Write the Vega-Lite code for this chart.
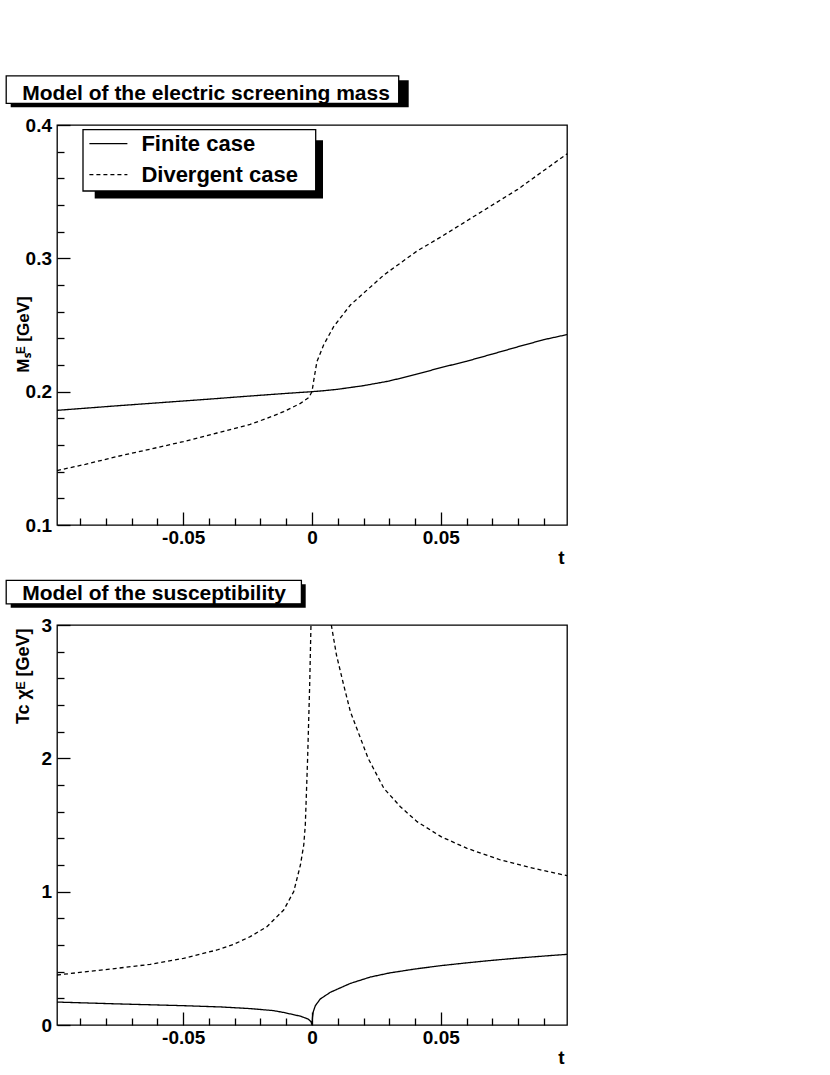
{
  "$schema": "https://vega.github.io/schema/vega-lite/v6.json",
  "padding": {"left": 4, "top": 74, "right": 10, "bottom": 10},
  "bounds": "flush",
  "spacing": 100,
  "resolve": {"scale": {"strokeDash": "shared"}, "legend": {"strokeDash": "shared"}},
  "config": {
    "font": "Liberation Sans",
    "view": {"stroke": "black", "strokeWidth": 1.3, "fill": "white"},
    "axis": {"domain": false, "grid": false, "tickColor": "black", "tickWidth": 1.3, "tickCount": 100, "labelFont": "Liberation Sans", "labelFontWeight": "bold", "labelFontSize": 19, "labelColor": "black", "labelFlush": false, "labelOverlap": false, "labelBound": false, "titleFont": "Liberation Sans", "titleFontWeight": "bold", "titleFontSize": 19, "titleColor": "black"},
    "legend": {"orient": "none", "legendX": 31.4, "legendY": -1.4, "padding": 0, "title": null, "labelFont": "Liberation Sans", "labelFontWeight": "bold", "labelFontSize": 22, "labelColor": "black", "labelOffset": 13, "rowPadding": -5, "symbolType": "stroke", "symbolSize": 1444, "symbolStrokeWidth": 1.3, "symbolStrokeColor": "black"}
  },
  "datasets": {
    "mass": [
      {"series": "Finite case", "t": -0.099, "v": 0.186},
      {"series": "Finite case", "t": -0.09, "v": 0.1873},
      {"series": "Finite case", "t": -0.075, "v": 0.1895},
      {"series": "Finite case", "t": -0.06, "v": 0.1916},
      {"series": "Finite case", "t": -0.05, "v": 0.193},
      {"series": "Finite case", "t": -0.04, "v": 0.1944},
      {"series": "Finite case", "t": -0.025, "v": 0.1966},
      {"series": "Finite case", "t": -0.01, "v": 0.1987},
      {"series": "Finite case", "t": 0, "v": 0.2},
      {"series": "Finite case", "t": 0.005, "v": 0.2008},
      {"series": "Finite case", "t": 0.01, "v": 0.2018},
      {"series": "Finite case", "t": 0.02, "v": 0.2045},
      {"series": "Finite case", "t": 0.03, "v": 0.208},
      {"series": "Finite case", "t": 0.04, "v": 0.2128},
      {"series": "Finite case", "t": 0.05, "v": 0.218},
      {"series": "Finite case", "t": 0.06, "v": 0.2228},
      {"series": "Finite case", "t": 0.07, "v": 0.2282},
      {"series": "Finite case", "t": 0.08, "v": 0.2337},
      {"series": "Finite case", "t": 0.09, "v": 0.239},
      {"series": "Finite case", "t": 0.099, "v": 0.2428},
      {"series": "Divergent case", "t": -0.099, "v": 0.1408},
      {"series": "Divergent case", "t": -0.088, "v": 0.1455},
      {"series": "Divergent case", "t": -0.0758, "v": 0.1513},
      {"series": "Divergent case", "t": -0.063, "v": 0.1568},
      {"series": "Divergent case", "t": -0.05, "v": 0.1625},
      {"series": "Divergent case", "t": -0.0369, "v": 0.169},
      {"series": "Divergent case", "t": -0.024, "v": 0.1755},
      {"series": "Divergent case", "t": -0.0175, "v": 0.18},
      {"series": "Divergent case", "t": -0.011, "v": 0.185},
      {"series": "Divergent case", "t": -0.0045, "v": 0.1912},
      {"series": "Divergent case", "t": -0.0013, "v": 0.1955},
      {"series": "Divergent case", "t": 0, "v": 0.2},
      {"series": "Divergent case", "t": 0.0006, "v": 0.2075},
      {"series": "Divergent case", "t": 0.0019, "v": 0.2225},
      {"series": "Divergent case", "t": 0.0045, "v": 0.235},
      {"series": "Divergent case", "t": 0.0084, "v": 0.2488},
      {"series": "Divergent case", "t": 0.0149, "v": 0.265},
      {"series": "Divergent case", "t": 0.0279, "v": 0.2875},
      {"series": "Divergent case", "t": 0.0408, "v": 0.3055},
      {"series": "Divergent case", "t": 0.05, "v": 0.316},
      {"series": "Divergent case", "t": 0.0667, "v": 0.336},
      {"series": "Divergent case", "t": 0.0797, "v": 0.3515},
      {"series": "Divergent case", "t": 0.0991, "v": 0.3785}
    ],
    "chi": [
      {"series": "Finite case", "branch": "all", "t": -0.099, "v": 0.172},
      {"series": "Finite case", "branch": "all", "t": -0.075, "v": 0.158},
      {"series": "Finite case", "branch": "all", "t": -0.05, "v": 0.145},
      {"series": "Finite case", "branch": "all", "t": -0.035, "v": 0.135},
      {"series": "Finite case", "branch": "all", "t": -0.024, "v": 0.123},
      {"series": "Finite case", "branch": "all", "t": -0.015, "v": 0.108},
      {"series": "Finite case", "branch": "all", "t": -0.011, "v": 0.094},
      {"series": "Finite case", "branch": "all", "t": -0.0045, "v": 0.066},
      {"series": "Finite case", "branch": "all", "t": -0.0015, "v": 0.045},
      {"series": "Finite case", "branch": "all", "t": -0.0004, "v": 0.025},
      {"series": "Finite case", "branch": "all", "t": 0, "v": 0},
      {"series": "Finite case", "branch": "all", "t": 0.0002, "v": 0.06},
      {"series": "Finite case", "branch": "all", "t": 0.0005, "v": 0.1},
      {"series": "Finite case", "branch": "all", "t": 0.0013, "v": 0.145},
      {"series": "Finite case", "branch": "all", "t": 0.0032, "v": 0.195},
      {"series": "Finite case", "branch": "all", "t": 0.0071, "v": 0.245},
      {"series": "Finite case", "branch": "all", "t": 0.0149, "v": 0.312},
      {"series": "Finite case", "branch": "all", "t": 0.0227, "v": 0.36},
      {"series": "Finite case", "branch": "all", "t": 0.03, "v": 0.39},
      {"series": "Finite case", "branch": "all", "t": 0.04, "v": 0.42},
      {"series": "Finite case", "branch": "all", "t": 0.05, "v": 0.445},
      {"series": "Finite case", "branch": "all", "t": 0.06, "v": 0.466},
      {"series": "Finite case", "branch": "all", "t": 0.07, "v": 0.485},
      {"series": "Finite case", "branch": "all", "t": 0.08, "v": 0.502},
      {"series": "Finite case", "branch": "all", "t": 0.09, "v": 0.517},
      {"series": "Finite case", "branch": "all", "t": 0.099, "v": 0.53},
      {"series": "Divergent case", "branch": "below", "t": -0.099, "v": 0.375},
      {"series": "Divergent case", "branch": "below", "t": -0.0758, "v": 0.425},
      {"series": "Divergent case", "branch": "below", "t": -0.0628, "v": 0.455},
      {"series": "Divergent case", "branch": "below", "t": -0.0499, "v": 0.5},
      {"series": "Divergent case", "branch": "below", "t": -0.0369, "v": 0.5625},
      {"series": "Divergent case", "branch": "below", "t": -0.0304, "v": 0.605},
      {"series": "Divergent case", "branch": "below", "t": -0.024, "v": 0.6625},
      {"series": "Divergent case", "branch": "below", "t": -0.0175, "v": 0.7375},
      {"series": "Divergent case", "branch": "below", "t": -0.011, "v": 0.8625},
      {"series": "Divergent case", "branch": "below", "t": -0.0071, "v": 1.0},
      {"series": "Divergent case", "branch": "below", "t": -0.0045, "v": 1.2},
      {"series": "Divergent case", "branch": "below", "t": -0.0032, "v": 1.35},
      {"series": "Divergent case", "branch": "below", "t": -0.0026, "v": 1.5},
      {"series": "Divergent case", "branch": "below", "t": -0.0017, "v": 2.0},
      {"series": "Divergent case", "branch": "below", "t": -0.0009, "v": 2.55},
      {"series": "Divergent case", "branch": "below", "t": -0.0004, "v": 3.0},
      {"series": "Divergent case", "branch": "above", "t": 0.0075, "v": 3.0},
      {"series": "Divergent case", "branch": "above", "t": 0.0095, "v": 2.775},
      {"series": "Divergent case", "branch": "above", "t": 0.0123, "v": 2.55},
      {"series": "Divergent case", "branch": "above", "t": 0.0149, "v": 2.35},
      {"series": "Divergent case", "branch": "above", "t": 0.0218, "v": 2.0},
      {"series": "Divergent case", "branch": "above", "t": 0.0279, "v": 1.775},
      {"series": "Divergent case", "branch": "above", "t": 0.0343, "v": 1.6375},
      {"series": "Divergent case", "branch": "above", "t": 0.0408, "v": 1.525},
      {"series": "Divergent case", "branch": "above", "t": 0.0501, "v": 1.4125},
      {"series": "Divergent case", "branch": "above", "t": 0.0602, "v": 1.325},
      {"series": "Divergent case", "branch": "above", "t": 0.0732, "v": 1.2375},
      {"series": "Divergent case", "branch": "above", "t": 0.0861, "v": 1.175},
      {"series": "Divergent case", "branch": "above", "t": 0.099, "v": 1.12}
    ]
  },
  "vconcat": [
    {
      "width": 510,
      "height": 400,
      "layer": [
        {
          "data": {"name": "mass"},
          "mark": {"type": "line", "color": "black", "strokeWidth": 1.3},
          "encoding": {
            "x": {
              "field": "t", "type": "quantitative",
              "scale": {"domain": [-0.099, 0.099], "nice": false, "zero": false},
              "axis": {
                "title": "t",
                "values": [-0.09, -0.08, -0.07, -0.06, -0.05, -0.04, -0.03, -0.02, -0.01, 0, 0.01, 0.02, 0.03, 0.04, 0.05, 0.06, 0.07, 0.08, 0.09],
                "tickCount": 100,
                "labelOverlap": false,
                "tickSize": {"condition": {"test": "abs(datum.value*20 - round(datum.value*20)) < 1e-6", "value": -13}, "value": -7},
                "labelExpr": "abs(datum.value + 0.05) < 1e-6 ? '-0.05' : abs(datum.value) < 1e-6 ? '0' : abs(datum.value - 0.05) < 1e-6 ? '0.05' : ''",
                "labelPadding": 16.5,
                "titleX": 507, "titleY": 38, "titleAlign": "right", "titleBaseline": "alphabetic"
              }
            },
            "y": {
              "field": "v", "type": "quantitative",
              "scale": {"domain": [0.1, 0.4], "nice": false, "zero": false},
              "axis": {
                "title": "Mₛᴱ [GeV]",
                "titleFontSize": 17,
                "values": [0.1, 0.12, 0.14, 0.16, 0.18, 0.2, 0.22, 0.24, 0.26, 0.28, 0.3, 0.32, 0.34, 0.36, 0.38, 0.4],
                "tickCount": 100,
                "labelOverlap": false,
                "tickSize": {"condition": {"test": "abs(datum.value*10 - round(datum.value*10)) < 1e-6", "value": -13}, "value": -7},
                "labelExpr": "abs(datum.value*10 - round(datum.value*10)) < 1e-6 ? format(datum.value, '.1f') : ''",
                "labelPadding": 18.5,
                "titleX": -29, "titleY": 209, "titleAngle": 270, "titleAlign": "center", "titleBaseline": "alphabetic"
              }
            },
            "strokeDash": {"field": "series", "type": "nominal", "scale": {"domain": ["Finite case", "Divergent case"], "range": [[1, 0], [4, 3]]}, "legend": {"title": null}}
          }
        },
        {
          "data": {"values": [{}]},
          "mark": {"type": "rect", "fill": "black"},
          "encoding": {
            "x": {"datum": -0.116975, "type": "quantitative", "scale": {"domain": [-0.099, 0.099], "nice": false, "zero": false}},
            "x2": {"datum": 0.037542},
            "y": {"datum": 0.433525, "type": "quantitative", "scale": {"domain": [0.1, 0.4], "nice": false, "zero": false}},
            "y2": {"datum": 0.413275}
          }
        },
        {
          "data": {"values": [{}]},
          "mark": {"type": "rect", "fill": "white", "stroke": "black", "strokeWidth": 1.3},
          "encoding": {
            "x": {"datum": -0.118722, "type": "quantitative", "scale": {"domain": [-0.099, 0.099], "nice": false, "zero": false}},
            "x2": {"datum": 0.03366},
            "y": {"datum": 0.4369, "type": "quantitative", "scale": {"domain": [0.1, 0.4], "nice": false, "zero": false}},
            "y2": {"datum": 0.41628}
          }
        },
        {
          "data": {"values": [{}]},
          "mark": {"type": "text", "align": "left", "baseline": "alphabetic", "font": "Liberation Sans", "fontSize": 21, "fontWeight": "bold", "color": "black", "text": "Model of the electric screening mass"},
          "encoding": {
            "x": {"datum": -0.1125, "type": "quantitative", "scale": {"domain": [-0.099, 0.099], "nice": false, "zero": false}},
            "y": {"datum": 0.41905, "type": "quantitative", "scale": {"domain": [0.1, 0.4], "nice": false, "zero": false}}
          }
        },
        {
          "data": {"values": [{}]},
          "mark": {"type": "rect", "fill": "black"},
          "encoding": {
            "x": {"datum": -0.084363, "type": "quantitative", "scale": {"domain": [-0.099, 0.099], "nice": false, "zero": false}},
            "x2": {"datum": 0.004271},
            "y": {"datum": 0.388525, "type": "quantitative", "scale": {"domain": [0.1, 0.4], "nice": false, "zero": false}},
            "y2": {"datum": 0.3448}
          }
        },
        {
          "data": {"values": [{}]},
          "mark": {"type": "rect", "fill": "white", "stroke": "black", "strokeWidth": 1.3},
          "encoding": {
            "x": {"datum": -0.088906, "type": "quantitative", "scale": {"domain": [-0.099, 0.099], "nice": false, "zero": false}},
            "x2": {"datum": 0.001437},
            "y": {"datum": 0.39655, "type": "quantitative", "scale": {"domain": [0.1, 0.4], "nice": false, "zero": false}},
            "y2": {"datum": 0.3505}
          }
        }
      ]
    },
    {
      "width": 510,
      "height": 400,
      "layer": [
        {
          "data": {"name": "chi"},
          "mark": {"type": "line", "color": "black", "strokeWidth": 1.3},
          "encoding": {
            "x": {
              "field": "t", "type": "quantitative",
              "scale": {"domain": [-0.099, 0.099], "nice": false, "zero": false},
              "axis": {
                "title": "t",
                "values": [-0.09, -0.08, -0.07, -0.06, -0.05, -0.04, -0.03, -0.02, -0.01, 0, 0.01, 0.02, 0.03, 0.04, 0.05, 0.06, 0.07, 0.08, 0.09],
                "tickCount": 100,
                "labelOverlap": false,
                "tickSize": {"condition": {"test": "abs(datum.value*20 - round(datum.value*20)) < 1e-6", "value": -13}, "value": -7},
                "labelExpr": "abs(datum.value + 0.05) < 1e-6 ? '-0.05' : abs(datum.value) < 1e-6 ? '0' : abs(datum.value - 0.05) < 1e-6 ? '0.05' : ''",
                "labelPadding": 16.5,
                "titleX": 507, "titleY": 38, "titleAlign": "right", "titleBaseline": "alphabetic"
              }
            },
            "y": {
              "field": "v", "type": "quantitative",
              "scale": {"domain": [0, 3], "nice": false, "zero": false},
              "axis": {
                "title": "Tc χᴱ [GeV]",
                "titleFontSize": 18,
                "values": [0, 0.2, 0.4, 0.6, 0.8, 1, 1.2, 1.4, 1.6, 1.8, 2, 2.2, 2.4, 2.6, 2.8, 3],
                "tickCount": 100,
                "labelOverlap": false,
                "tickSize": {"condition": {"test": "abs(datum.value - round(datum.value)) < 1e-6", "value": -13}, "value": -7},
                "labelExpr": "abs(datum.value - round(datum.value)) < 1e-6 ? format(datum.value, 'd') : ''",
                "labelPadding": 18.5,
                "titleX": -29, "titleY": 3, "titleAngle": 270, "titleAlign": "right", "titleBaseline": "alphabetic"
              }
            },
            "detail": {"field": "branch", "type": "nominal"},
            "strokeDash": {"field": "series", "type": "nominal", "scale": {"domain": ["Finite case", "Divergent case"], "range": [[1, 0], [4, 3]]}, "legend": {"title": null}}
          }
        },
        {
          "data": {"values": [{}]},
          "mark": {"type": "rect", "fill": "black"},
          "encoding": {
            "x": {"datum": -0.116975, "type": "quantitative", "scale": {"domain": [-0.099, 0.099], "nice": false, "zero": false}},
            "x2": {"datum": -0.002446},
            "y": {"datum": 3.30525, "type": "quantitative", "scale": {"domain": [0, 3], "nice": false, "zero": false}},
            "y2": {"datum": 3.129}
          }
        },
        {
          "data": {"values": [{}]},
          "mark": {"type": "rect", "fill": "white", "stroke": "black", "strokeWidth": 1.3},
          "encoding": {
            "x": {"datum": -0.118722, "type": "quantitative", "scale": {"domain": [-0.099, 0.099], "nice": false, "zero": false}},
            "x2": {"datum": -0.004115},
            "y": {"datum": 3.33525, "type": "quantitative", "scale": {"domain": [0, 3], "nice": false, "zero": false}},
            "y2": {"datum": 3.159}
          }
        },
        {
          "data": {"values": [{}]},
          "mark": {"type": "text", "align": "left", "baseline": "alphabetic", "font": "Liberation Sans", "fontSize": 21, "fontWeight": "bold", "color": "black", "text": "Model of the susceptibility"},
          "encoding": {
            "x": {"datum": -0.1125, "type": "quantitative", "scale": {"domain": [-0.099, 0.099], "nice": false, "zero": false}},
            "y": {"datum": 3.18525, "type": "quantitative", "scale": {"domain": [0, 3], "nice": false, "zero": false}}
          }
        }
      ]
    }
  ]
}
